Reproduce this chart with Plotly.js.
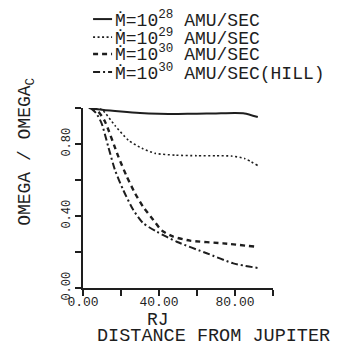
<!DOCTYPE html>
<html>
<head>
<meta charset="utf-8">
<script src="https://cdn.plot.ly/plotly-3.0.1.min.js"></script>
<style>html,body{margin:0;padding:0;background:#fff;}#chart{width:344px;height:346px;}</style>
</head>
<body>
<div id="chart"></div>
<script>
// Data (x in RJ, y = OMEGA / OMEGA_c)
const seriesNames = [
  "Ṁ=10<sup>28</sup> AMU/SEC",
  "Ṁ=10<sup>29</sup> AMU/SEC",
  "Ṁ=10<sup>30</sup> AMU/SEC",
  "Ṁ=10<sup>30</sup> AMU/SEC(HILL)"
];
const x1e28 = [3, 10, 20, 30, 40, 50, 60, 70, 80, 85, 92];
const y1e28 = [1.0, 0.99, 0.98, 0.972, 0.968, 0.967, 0.968, 0.97, 0.972, 0.97, 0.95];
const x1e29 = [4, 10, 17, 24, 31, 38, 48.6, 60, 70, 78, 85, 92];
const y1e29 = [1.0, 0.99, 0.9, 0.82, 0.776, 0.748, 0.738, 0.735, 0.735, 0.733, 0.72, 0.68];
const x1e30 = [4, 8, 11.6, 18.6, 23, 27.4, 31.7, 37, 41.4, 47.5, 56.3, 73.8, 90.5];
const y1e30 = [1.0, 0.98, 0.924, 0.73, 0.62, 0.526, 0.45, 0.378, 0.32, 0.285, 0.263, 0.248, 0.23];
const xHill = [4, 7, 9.8, 13.3, 16.8, 21.2, 26.5, 31.7, 38.8, 49.3, 65.1, 79.1, 93.2];
const yHill = [1.0, 0.97, 0.915, 0.785, 0.656, 0.544, 0.433, 0.36, 0.313, 0.257, 0.193, 0.137, 0.109];

const xTickVals = [0, 20, 40, 60, 80, 100];
const xTickText = ["0.00", "", "40.00", "", "80.00", ""];
const yTickVals = [0, 0.2, 0.4, 0.6, 0.8, 1.0];
const yTickText = ["0.00", "", "0.40", "", "0.80", ""];

const ink = "#1e1e1e";
const FONT = "Liberation Mono, DejaVu Sans Mono, monospace";
const dashes = ["solid", "2px,2.5px", "5px,4px", "7px,3px,2px,3px"];
const widths = [2, 1.6, 2.4, 2];
const xs = [x1e28, x1e29, x1e30, xHill];
const ys = [y1e28, y1e29, y1e30, yHill];

const traces = xs.map((x, i) => ({
  x: x, y: ys[i], type: "scatter", mode: "lines", name: seriesNames[i],
  line: {color: ink, width: widths[i], dash: dashes[i], shape: "spline", smoothing: 0.6},
  showlegend: false, hoverinfo: "skip"
}));

// legend drawn as annotations + sample segments (paper coords)
const legRows = [1.494, 1.394, 1.3, 1.2];
const annotations = seriesNames.map((t, i) => ({
  xref: "paper", yref: "paper", x: 0.16, y: legRows[i], xanchor: "left", yanchor: "middle",
  text: t, showarrow: false, font: {family: FONT, size: 18, color: ink}
}));
const shapes = seriesNames.map((t, i) => ({
  type: "line", xref: "paper", yref: "paper", x0: 0.053, x1: 0.153, y0: legRows[i], y1: legRows[i],
  line: {color: ink, width: widths[i], dash: dashes[i]}
}));
annotations.push({
  xref: "paper", yref: "paper", x: -0.295, y: 0.756, xanchor: "center", yanchor: "middle",
  text: "OMEGA / OMEGA<sub>C</sub>", textangle: -90, showarrow: false,
  font: {family: FONT, size: 18, color: ink}
});
annotations.push({
  xref: "paper", yref: "paper", x: 0.397, y: -0.175, xanchor: "center", yanchor: "middle",
  text: "RJ", showarrow: false, font: {family: FONT, size: 18, color: ink}
});
annotations.push({
  xref: "paper", yref: "paper", x: 0.689, y: -0.268, xanchor: "center", yanchor: "middle",
  text: "DISTANCE FROM JUPITER", showarrow: false, font: {family: FONT, size: 18.5, color: ink}
});

const layout = {
  width: 344, height: 346,
  margin: {l: 83, r: 71, t: 108, b: 58, pad: 0},
  paper_bgcolor: "#ffffff", plot_bgcolor: "#ffffff",
  showlegend: false,
  xaxis: {
    range: [0, 100], tickmode: "array", tickvals: xTickVals, ticktext: xTickText,
    showgrid: false, zeroline: false, showline: true, linecolor: ink, linewidth: 2,
    ticks: "outside", ticklen: 6, tickwidth: 1.5, tickcolor: ink, ticklabelstandoff: -6,
    tickfont: {family: FONT, size: 13, color: ink}, mirror: false
  },
  yaxis: {
    range: [0, 1], tickmode: "array", tickvals: yTickVals, ticktext: yTickText,
    showgrid: false, zeroline: false, showline: true, linecolor: ink, linewidth: 2,
    ticks: "outside", ticklen: 6, tickwidth: 1.5, tickcolor: ink, tickangle: -90,
    tickfont: {family: FONT, size: 12, color: ink}, mirror: false
  },
  annotations: annotations,
  shapes: shapes
};

Plotly.newPlot("chart", traces, layout, {displayModeBar: false, staticPlot: true});
</script>
</body>
</html>
